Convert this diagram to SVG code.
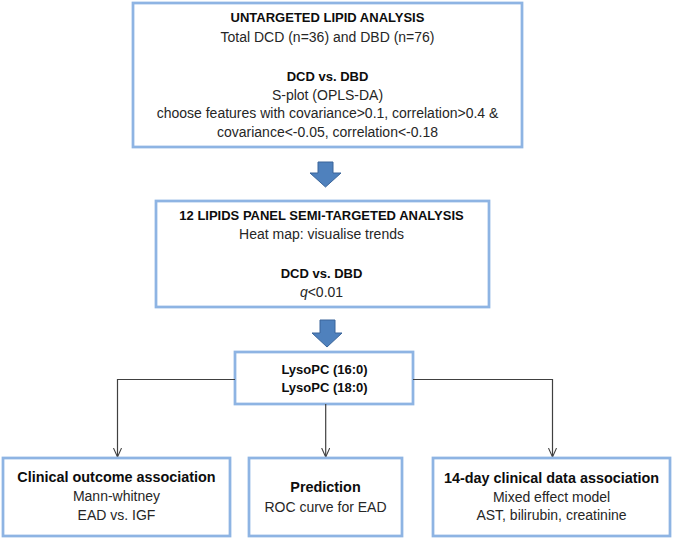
<svg xmlns="http://www.w3.org/2000/svg" width="675" height="541" viewBox="0 0 675 541">
<defs>
<style>
.box{fill:#fff;stroke:#8EB4E3;stroke-width:2.75}
text{font-family:"Liberation Sans",Arial,sans-serif;text-anchor:middle;fill:#262626;font-size:14px}
.b{font-weight:bold;fill:#0d0d0d;font-size:13px}
.bh{font-weight:bold;fill:#0d0d0d;font-size:14.4px}
.blk{fill:#4F81BD;stroke:#3A659A;stroke-width:1}
.con{fill:none;stroke:#404040;stroke-width:1.2}
</style>
<marker id="v" viewBox="0 0 10 10" refX="10" refY="5" markerWidth="9" markerHeight="9" markerUnits="userSpaceOnUse" orient="auto">
<path d="M0,0.5 L10,5 L0,9.5" fill="none" stroke="#404040" stroke-width="1.2"/>
</marker>
</defs>
<rect width="675" height="541" fill="#fff"/>
<g id="untargeted">
<rect class="box" x="133" y="3" width="389" height="144"/>
<text class="b" x="327.5" y="22">UNTARGETED LIPID ANALYSIS</text>
<text x="327.5" y="41.5">Total DCD (n=36) and DBD (n=76)</text>
<text class="b" x="327.5" y="80.5">DCD vs. DBD</text>
<text x="327.5" y="99.5">S-plot (OPLS-DA)</text>
<text x="327.5" y="118">choose features with covariance&gt;0.1, correlation&gt;0.4 &amp;</text>
<text x="327.5" y="137">covariance&lt;-0.05, correlation&lt;-0.18</text>
</g>
<g id="arrow1">
<path class="blk" d="M318,162 H333 V173 H341 L325.5,187 L310,173 H318 Z"/>
</g>
<g id="semitargeted">
<rect class="box" x="156" y="201" width="333" height="106"/>
<text class="b" x="321.5" y="220">12 LIPIDS PANEL SEMI-TARGETED ANALYSIS</text>
<text x="321.5" y="239">Heat map: visualise trends</text>
<text class="b" x="321.5" y="278">DCD vs. DBD</text>
<text x="321.5" y="297"><tspan font-style="italic">q</tspan>&lt;0.01</text>
</g>
<g id="arrow2">
<path class="blk" d="M320,320 H335 V333 H342 L327,347 L312,333 H320 Z"/>
</g>
<g id="lysopc">
<rect class="box" x="235" y="352" width="178" height="52"/>
<text class="b" x="324.5" y="374">LysoPC (16:0)</text>
<text class="b" x="324.5" y="392">LysoPC (18:0)</text>
</g>
<g id="connectors">
<path class="con" d="M235,379.5 H117.5 V457" marker-end="url(#v)"/>
<path class="con" d="M325.7,404 V457" marker-end="url(#v)"/>
<path class="con" d="M413,379.5 H552.5 V457" marker-end="url(#v)"/>
</g>
<g id="clinical">
<rect class="box" x="3" y="458" width="227" height="78"/>
<text class="bh" x="116.5" y="482">Clinical outcome association</text>
<text x="116.5" y="501">Mann-whitney</text>
<text x="116.5" y="520">EAD vs. IGF</text>
</g>
<g id="prediction">
<rect class="box" x="249" y="458" width="153" height="78"/>
<text class="bh" x="325.5" y="492">Prediction</text>
<text x="325.5" y="512">ROC curve for EAD</text>
</g>
<g id="fourteenday">
<rect class="box" x="433" y="458" width="237" height="78"/>
<text class="bh" x="551.5" y="483">14-day clinical data association</text>
<text x="551.5" y="501.5">Mixed effect model</text>
<text x="551.5" y="520">AST, bilirubin, creatinine</text>
</g>
</svg>
